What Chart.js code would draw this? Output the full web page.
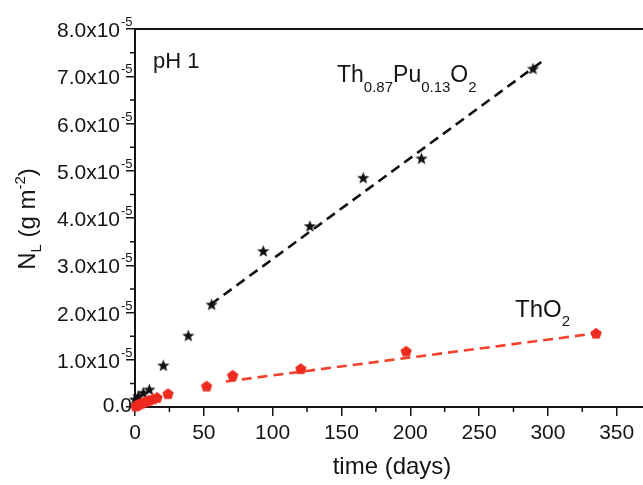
<!DOCTYPE html>
<html>
<head>
<meta charset="utf-8">
<script src="https://cdn.jsdelivr.net/npm/chart.js@4.4.0/dist/chart.umd.min.js"></script>
<style>
html,body{margin:0;padding:0;background:#fff;overflow:hidden;width:643px;height:485px;}
canvas{display:block;}
</style>
</head>
<body>
<canvas id="c" width="665" height="485"></canvas>
<script>
// ---- data (N_L in units of 1e-5 g m^-2) ----
const daysThPu = [0, 2.4, 6, 10.4, 20.6, 38.7, 55.7, 93.2, 127.1, 165.8, 208.2, 289.2];
const nlThPu   = [0.15, 0.22, 0.29, 0.36, 0.87, 1.50, 2.16, 3.29, 3.82, 4.84, 5.25, 7.15];
const daysThO2 = [0.5, 1.5, 3, 4.5, 6, 8, 10, 13, 16, 24, 52, 71, 120.5, 197, 335];
const nlThO2   = [0.01, 0.03, 0.05, 0.07, 0.09, 0.11, 0.13, 0.16, 0.19, 0.27, 0.43, 0.66, 0.80, 1.17, 1.55];
const fitThPuDays = [55, 296];
const fitThPuNL   = [2.17, 7.32];
const fitThO2Days = [66, 338];
const fitThO2NL   = [0.54, 1.57];
const xTickValues = [0, 50, 100, 150, 200, 250, 300, 350];
const yTickValues = [0, 1, 2, 3, 4, 5, 6, 7, 8];
const SCALE = 1e-5;

const pts = (xs, ys) => xs.map((x, i) => ({x: x, y: ys[i] * SCALE}));

function makeMarker(type, color, r) {
  const s = Math.ceil(r * 2 + 2);
  const cv = document.createElement('canvas');
  cv.width = s; cv.height = s;
  const g = cv.getContext('2d');
  const cx = s / 2, cy = s / 2;
  g.fillStyle = color;
  g.beginPath();
  if (type === 'star') {
    for (let i = 0; i < 10; i++) {
      const rr = i % 2 === 0 ? r : r * 0.42;
      const a = -Math.PI / 2 + i * Math.PI / 5;
      const px = cx + rr * Math.cos(a), py = cy + rr * Math.sin(a);
      i === 0 ? g.moveTo(px, py) : g.lineTo(px, py);
    }
  } else {
    for (let i = 0; i < 5; i++) {
      const a = -Math.PI / 2 + i * 2 * Math.PI / 5;
      const px = cx + r * Math.cos(a), py = cy + r * Math.sin(a);
      i === 0 ? g.moveTo(px, py) : g.lineTo(px, py);
    }
  }
  g.closePath();
  g.fill();
  return cv;
}

const starImg = makeMarker('star', '#111', 6.5);
const pentImg = makeMarker('pent', '#ee2a1f', 6);

const FONT = '"Liberation Sans", Arial, Helvetica, sans-serif';
const INK = '#151515';

function drawRich(ctx, parts, x, y) {
  let cx = x;
  for (const p of parts) {
    ctx.font = p[1] + 'px ' + FONT;
    ctx.fillText(p[0], cx, y + p[2]);
    cx += ctx.measureText(p[0]).width;
  }
  return cx - x;
}
function richWidth(ctx, parts) {
  let w = 0;
  for (const p of parts) { ctx.font = p[1] + 'px ' + FONT; w += ctx.measureText(p[0]).width; }
  return w;
}

const decor = {
  id: 'decor',
  afterDraw(chart) {
    const ctx = chart.ctx;
    const xs = chart.scales.x, ys = chart.scales.y;
    const ca = chart.chartArea;
    ctx.save();
    ctx.strokeStyle = INK;
    ctx.fillStyle = INK;
    // top frame
    ctx.lineWidth = 2;
    ctx.beginPath();
    ctx.moveTo(ca.left - 1, ca.top);
    ctx.lineTo(chart.width, ca.top);
    ctx.stroke();
    // minor ticks
    ctx.lineWidth = 1.5;
    ctx.beginPath();
    for (let i = 0; i < xTickValues.length; i++) {
      const v = xTickValues[i] + 25;
      if (v > xs.max) break;
      const px = xs.getPixelForValue(v);
      ctx.moveTo(px, ca.bottom); ctx.lineTo(px, ca.bottom + 5);
    }
    for (let i = 0; i < yTickValues.length - 1; i++) {
      const py = ys.getPixelForValue((yTickValues[i] + 0.5) * SCALE);
      ctx.moveTo(ca.left, py); ctx.lineTo(ca.left - 5, py);
    }
    ctx.stroke();
    // y tick labels with superscript
    ctx.textBaseline = 'alphabetic';
    for (const v of yTickValues) {
      const py = ys.getPixelForValue(v * SCALE);
      if (v === 0) {
        ctx.font = '21px ' + FONT;
        ctx.textAlign = 'right';
        ctx.fillText('0.0', 132, py + 5);
      } else {
        ctx.font = '21px ' + FONT;
        ctx.textAlign = 'right';
        ctx.fillText(v.toFixed(1) + 'x10', 120, py + 8);
        ctx.font = '13px ' + FONT;
        ctx.textAlign = 'left';
        ctx.fillText('-5', 121, py - 3);
      }
    }
    ctx.textAlign = 'left';
    // x title
    ctx.font = '24px ' + FONT;
    ctx.textAlign = 'center';
    ctx.fillText('time (days)', 392, 474);
    ctx.textAlign = 'left';
    // y title rotated
    ctx.save();
    const yParts = [['N', 24, 0], ['L', 15, 6], [' (g m', 24, 0], ['-2', 15, -10], [')', 24, 0]];
    const yw = richWidth(ctx, yParts);
    ctx.translate(35, 219 + yw / 2);
    ctx.rotate(-Math.PI / 2);
    drawRich(ctx, yParts, 0, 0);
    ctx.restore();
    // annotations
    ctx.font = '22px ' + FONT;
    ctx.fillText('pH 1', 153, 68);
    drawRich(ctx, [['Th', 23, 0], ['0.87', 15, 10], ['Pu', 23, 0], ['0.13', 15, 10], ['O', 23, 0], ['2', 15, 10]], 337, 82);
    drawRich(ctx, [['Th', 24, 0], ['O', 24, 0], ['2', 15, 9]], 515, 317);
    ctx.restore();
  }
};

Chart.defaults.font.family = FONT;
Chart.defaults.color = INK;

new Chart(document.getElementById('c'), {
  type: 'scatter',
  data: {
    datasets: [
      {
        type: 'line',
        data: pts(fitThO2Days, fitThO2NL),
        borderColor: '#f2402c',
        borderWidth: 2.6,
        borderDash: [10, 6],
        pointRadius: 0,
        fill: false,
        order: 3
      },
      {
        type: 'line',
        data: pts(fitThPuDays, fitThPuNL),
        borderColor: '#111',
        borderWidth: 2.6,
        borderDash: [10, 6],
        pointRadius: 0,
        fill: false,
        order: 4
      },
      {
        data: pts(daysThO2, nlThO2),
        pointStyle: pentImg,
        pointRadius: 6,
        order: 1
      },
      {
        data: pts(daysThPu, nlThPu),
        pointStyle: starImg,
        pointRadius: 6,
        order: 2
      }
    ]
  },
  options: {
    responsive: false,
    animation: false,
    devicePixelRatio: 1,
    clip: false,
    layout: {padding: {top: 29, right: 0, left: 0, bottom: 0}},
    plugins: {legend: {display: false}, tooltip: {enabled: false}},
    scales: {
      x: {
        type: 'linear',
        min: 0,
        max: 380,
        afterBuildTicks: s => { s.ticks = xTickValues.map(v => ({value: v})); },
        afterFit: s => { s.height = 78; },
        ticks: {font: {size: 21}, color: INK, padding: 5, maxRotation: 0, autoSkip: false},
        grid: {display: true, drawOnChartArea: false, drawTicks: true, tickLength: 9, color: INK, lineWidth: 1.5},
        border: {display: true, color: INK, width: 2}
      },
      y: {
        type: 'linear',
        min: 0,
        max: 8 * SCALE,
        afterBuildTicks: s => { s.ticks = yTickValues.map(v => ({value: v * SCALE})); },
        afterFit: s => { s.width = 135; },
        ticks: {display: false},
        grid: {display: true, drawOnChartArea: false, drawTicks: true, tickLength: 9, color: INK, lineWidth: 1.5},
        border: {display: true, color: INK, width: 2}
      }
    }
  },
  plugins: [decor]
});
</script>
</body>
</html>
